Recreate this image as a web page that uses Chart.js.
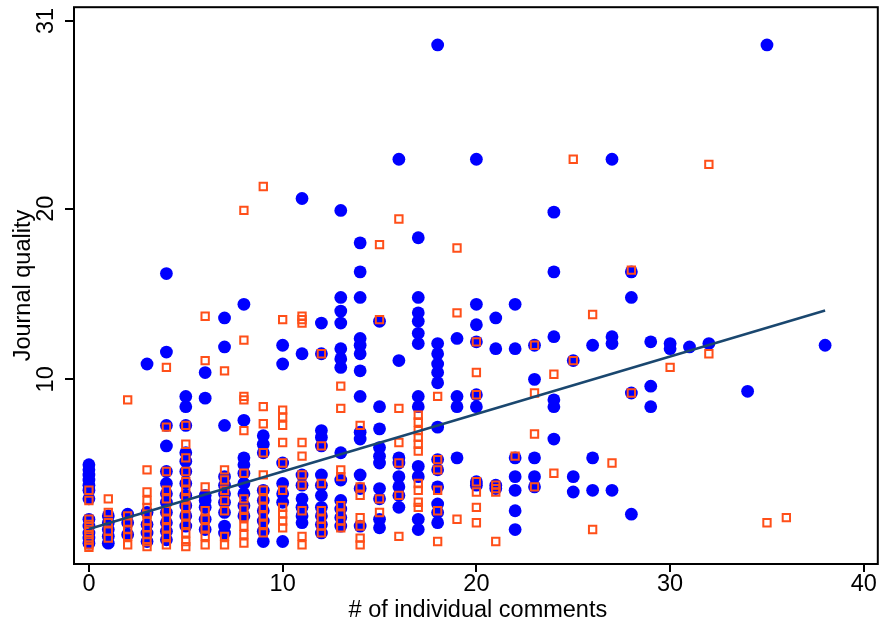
<!DOCTYPE html>
<html>
<head>
<meta charset="utf-8">
<script src="https://cdn.jsdelivr.net/npm/chart.js@4/dist/chart.umd.min.js"></script>
<style>
  html, body { margin: 0; padding: 0; background: #fff; }
  #wrap { width: 885px; height: 628px; position: relative; }
</style>
</head>
<body>
<div id="wrap"><canvas id="qualityChart"></canvas></div>
<script>
// tick labels
const xTicks = [0, 10, 20, 30, 40];
const yTicks = [10, 20, 31];

// journal quality per number of comments (index = # of comments)
const blueQuality = [
  [5.0, 4.7, 4.4, 4.1, 3.8, 3.5, 3.0, 1.8, 1.4, 1.0, 0.7, 0.4],        // 0
  [2.0, 1.6, 1.2, 0.8, 0.4],                                          // 1
  [2.1, 1.6, 0.9],                                                    // 2
  [10.9, 2.2, 1.5, 1.0, 0.5],                                         // 3
  [16.2, 11.6, 7.3, 6.1, 4.6, 3.9, 3.3, 2.8, 2.2, 1.6, 1.1, 0.6],     // 4
  [9.0, 8.4, 7.3, 5.7, 5.2, 4.6, 3.9, 3.2, 2.6, 2.0, 1.4],            // 5
  [10.4, 8.9, 3.2, 2.9, 2.5, 1.8, 1.2],                               // 6
  [13.6, 11.9, 7.3, 4.3, 3.8, 3.3, 2.8, 2.2, 1.4, 1.0],               // 7
  [14.4, 7.6, 5.4, 5.0, 4.5, 3.9, 3.3, 2.6, 2.0],                     // 8
  [6.7, 6.2, 5.7, 3.5, 2.9, 2.3, 1.7, 1.1, 0.5],                      // 9
  [12.0, 10.9, 5.1, 3.9, 3.3, 2.8, 0.5],                              // 10
  [20.6, 11.5, 4.4, 3.8, 3.0, 2.5, 2.0, 1.6],                         // 11
  [13.3, 11.5, 7.0, 6.6, 6.1, 4.4, 3.8, 3.2, 2.5, 2.0, 1.5, 1.0],     // 12
  [19.9, 14.8, 14.0, 13.3, 11.8, 11.2, 10.7, 5.7, 4.1, 2.9, 2.4, 1.9, 1.4], // 13
  [18.0, 16.3, 14.8, 12.4, 12.0, 11.5, 10.5, 9.0, 6.9, 6.5, 4.4, 3.6, 1.4], // 14
  [13.4, 8.4, 7.1, 6.0, 5.5, 5.1, 3.6, 3.0, 1.8, 1.3],                // 15
  [22.9, 11.1, 5.4, 5.1, 4.3, 3.7, 3.2, 2.5],                         // 16
  [18.3, 14.8, 13.9, 13.4, 12.7, 12.1, 9.0, 8.4, 4.9, 4.3, 1.8, 1.2], // 17
  [29.6, 12.1, 11.5, 10.9, 10.4, 9.8, 7.2, 5.3, 4.7, 3.7, 2.7, 2.2, 1.6], // 18
  [12.4, 9.0, 8.4, 5.4],                                              // 19
  [22.9, 14.4, 13.2, 12.2, 9.1, 8.4, 4.0, 3.8],                       // 20
  [13.6, 11.8, 3.8, 3.6],                                             // 21
  [14.4, 11.8, 5.4, 4.3, 3.5, 2.3, 1.2],                              // 22
  [12.0, 10.0, 5.4, 4.3, 3.7],                                        // 23
  [19.8, 16.3, 12.5, 8.8, 8.4, 6.5],                                  // 24
  [11.1, 4.3, 3.4],                                                   // 25
  [12.0, 5.4, 3.5],                                                   // 26
  [22.9, 12.5, 12.1, 3.5],                                            // 27
  [16.3, 14.8, 9.2, 2.1],                                             // 28
  [12.2, 9.6, 8.4],                                                   // 29
  [12.1, 11.8],                                                       // 30
  [11.9],                                                             // 31
  [12.1],                                                             // 32
  [],                                                                 // 33
  [9.3],                                                              // 34
  [29.6],                                                             // 35
  [],                                                                 // 36
  [],                                                                 // 37
  [12.0]                                                              // 38
];

const orangeQuality = [
  [3.5, 2.9, 1.8, 1.5, 1.2, 0.9, 0.6, 0.3, 0.15],                     // 0
  [3.0, 2.2, 1.6, 1.1, 0.7],                                          // 1
  [8.8, 2.0, 1.6, 1.2, 0.8, 0.3],                                     // 2
  [4.7, 3.4, 2.9, 2.5, 2.1, 1.7, 1.3, 0.9, 0.5, 0.2],                 // 3
  [10.7, 7.2, 4.6, 3.5, 3.0, 2.3, 1.8, 1.3, 0.8, 0.3],                // 4
  [7.3, 6.2, 5.4, 4.6, 4.0, 3.5, 3.0, 2.5, 2.0, 1.5, 1.0, 0.5, 0.2],  // 5
  [13.7, 11.1, 3.7, 2.3, 1.8, 1.3, 0.8, 0.3],                         // 6
  [10.5, 4.7, 4.1, 3.5, 2.9, 2.3, 0.8, 0.3],                          // 7
  [19.9, 12.3, 9.0, 8.8, 7.0, 4.5, 3.0, 2.4, 1.9, 1.4, 0.9, 0.4],     // 8
  [21.3, 8.4, 7.4, 5.7, 4.4, 3.5, 3.0, 2.5, 2.0, 1.5, 1.0],           // 9
  [13.5, 8.2, 7.8, 7.3, 6.3, 5.1, 3.5, 2.5, 2.1, 1.7, 1.3],           // 10
  [13.7, 13.5, 13.3, 6.3, 5.5, 4.4, 3.8, 2.3, 0.8, 0.3],              // 11
  [11.5, 6.1, 3.9, 2.3, 1.8, 1.4, 1.0],                               // 12
  [9.6, 8.3, 4.7, 4.3, 2.6, 2.1, 1.7, 1.3],                           // 13
  [7.3, 3.7, 3.2, 1.9, 1.4, 0.7, 0.3],                                // 14
  [17.9, 13.5, 3.0, 2.2],                                             // 15
  [19.4, 8.3, 6.3, 5.1, 3.2, 0.8],                                    // 16
  [7.9, 7.5, 7.0, 6.6, 6.2, 5.8, 3.9, 3.5, 2.8, 2.5],                 // 17
  [9.0, 5.3, 4.7, 3.5, 2.3, 0.5],                                     // 18
  [17.7, 13.9, 1.8],                                                  // 19
  [12.2, 10.4, 9.1, 4.0, 3.4, 2.5, 1.6],                              // 20
  [3.8, 3.6, 3.4, 0.5],                                               // 21
  [5.5],                                                              // 22
  [12.0, 9.2, 6.8, 3.7],                                              // 23
  [10.3, 4.5],                                                        // 24
  [22.9, 11.1],                                                       // 25
  [13.8, 1.2],                                                        // 26
  [5.1],                                                              // 27
  [16.4, 9.2],                                                        // 28
  [],                                                                 // 29
  [10.7],                                                             // 30
  [],                                                                 // 31
  [22.6, 11.5],                                                       // 32
  [],                                                                 // 33
  [],                                                                 // 34
  [1.6],                                                              // 35
  [1.9]                                                               // 36
];

// fitted line end points
const fitX = [0, 38];
const fitY = [1.23, 14.04];

const toPoints = cols => cols.flatMap((ys, x) => ys.map(y => ({ x: x, y: y })));

const FONT = '"Liberation Sans", Arial, Helvetica, sans-serif';

// frame + axis text (y labels are vertical, like the original)
const axisText = {
  id: 'axisText',
  afterDraw(chart) {
    const { ctx, chartArea: a, scales } = chart;
    ctx.save();
    ctx.strokeStyle = '#000';
    ctx.lineWidth = 2;
    ctx.strokeRect(a.left, a.top, a.right - a.left, a.bottom - a.top);

    ctx.fillStyle = '#000';
    ctx.font = '23.5px ' + FONT;
    ctx.textAlign = 'center';
    ctx.textBaseline = 'alphabetic';

    xTicks.forEach(v => {
      ctx.fillText(String(v), scales.x.getPixelForValue(v), 591);
    });
    ctx.fillText('# of individual comments', (a.left + a.right) / 2 + 2, 617);

    yTicks.forEach(v => {
      ctx.save();
      ctx.translate(53, scales.y.getPixelForValue(v));
      ctx.rotate(-Math.PI / 2);
      ctx.fillText(String(v), 0, 0);
      ctx.restore();
    });
    ctx.translate(30, (a.top + a.bottom) / 2);
    ctx.rotate(-Math.PI / 2);
    ctx.fillText('Journal quality', 0, 0);
    ctx.restore();
  }
};

new Chart(document.getElementById('qualityChart'), {
  type: 'scatter',
  data: {
    datasets: [
      {
        type: 'line',
        data: fitX.map((x, i) => ({ x: x, y: fitY[i] })),
        borderColor: '#1a476f',
        borderWidth: 2.5,
        pointRadius: 0,
        fill: false,
        order: 0
      },
      {
        data: toPoints(orangeQuality),
        pointStyle: 'rect',
        pointRadius: 5.2,
        borderWidth: 2,
        borderColor: '#ff4f19',
        backgroundColor: 'rgba(0,0,0,0)',
        order: 1
      },
      {
        data: toPoints(blueQuality),
        pointStyle: 'circle',
        pointRadius: 6.4,
        borderWidth: 0,
        backgroundColor: '#0000ff',
        order: 2
      }
    ]
  },
  options: {
    responsive: true,
    maintainAspectRatio: false,
    animation: false,
    events: [],
    layout: { padding: { top: 6, right: 3, left: 0, bottom: 0 } },
    plugins: { legend: { display: false }, tooltip: { enabled: false } },
    scales: {
      x: {
        type: 'linear',
        min: -0.77,
        max: 40.72,
        afterBuildTicks: s => { s.ticks = xTicks.map(v => ({ value: v })); },
        afterFit: s => { s.height = 64; },
        ticks: { display: false },
        border: { display: false },
        grid: { drawOnChartArea: false, drawTicks: true, tickLength: 8, color: '#000', lineWidth: 2 }
      },
      y: {
        type: 'linear',
        min: -0.82,
        max: 31.81,
        afterBuildTicks: s => { s.ticks = yTicks.map(v => ({ value: v })); },
        afterFit: s => { s.width = 74; },
        ticks: { display: false },
        border: { display: false },
        grid: { drawOnChartArea: false, drawTicks: true, tickLength: 9, color: '#000', lineWidth: 2 }
      }
    }
  },
  plugins: [axisText]
});
</script>
</body>
</html>
